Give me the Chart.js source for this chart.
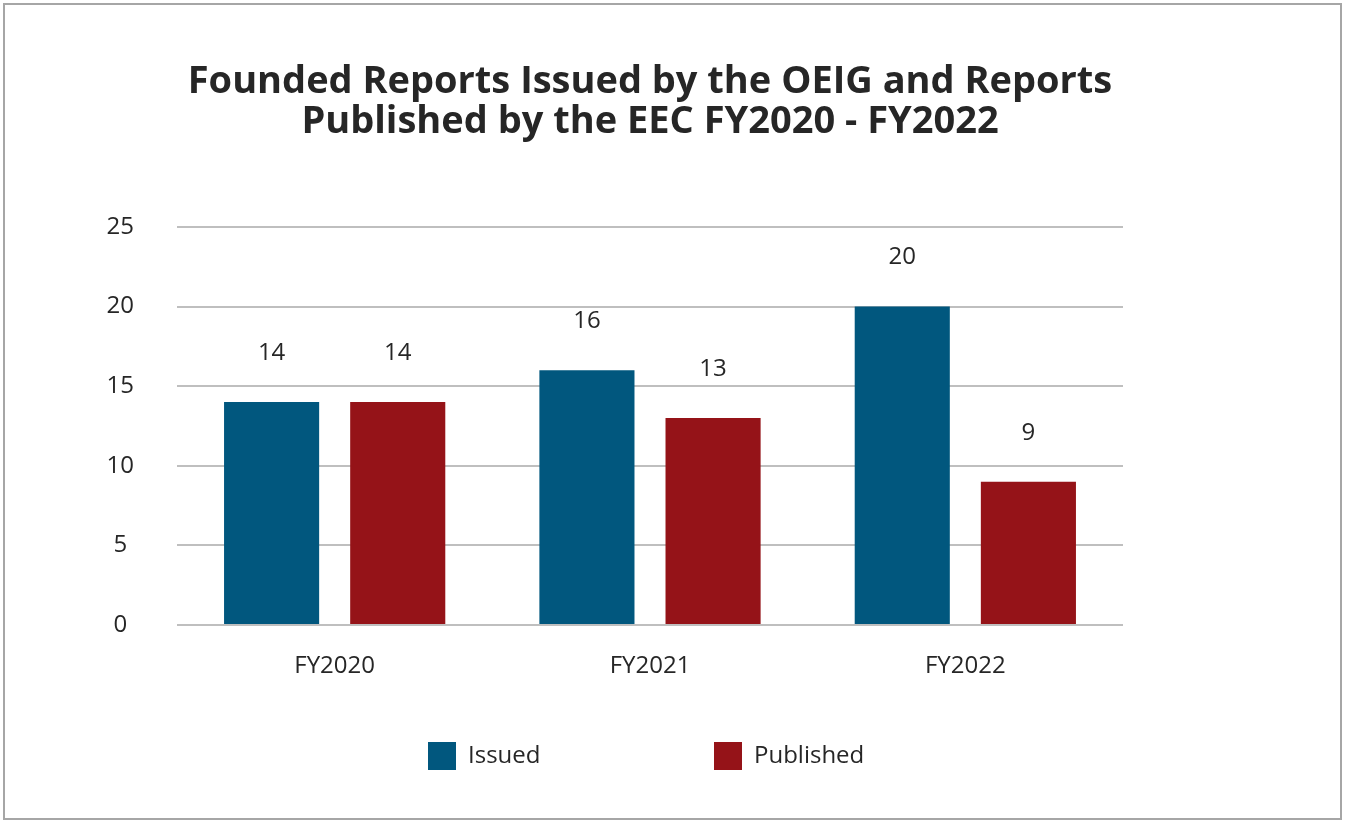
<!DOCTYPE html>
<html>
<head>
<meta charset="utf-8">
<script src="https://cdn.jsdelivr.net/npm/chart.js@4"></script>
<style>
  html, body { margin: 0; padding: 0; background: #fff; }
  #wrap { width: 1345px; height: 823px; }
</style>
</head>
<body>
<div id="wrap"><canvas id="chart"></canvas></div>
<script>
var years = ['FY2020', 'FY2021', 'FY2022'];
var issued = [14, 16, 20];
var published = [14, 13, 9];
var seriesNames = ['Issued', 'Published'];
var seriesColors = ['#01577E', '#951318'];
var titleLines = ['Founded Reports Issued by the OEIG and Reports', 'Published by the EEC FY2020 - FY2022'];

var textColor = '#262626';
var fontFamily = "'Open Sans', 'Noto Sans', sans-serif";

// border round the whole picture
var frame = {
    id: 'frame',
    beforeDraw: function (chart) {
        var ctx = chart.ctx;
        ctx.save();
        ctx.fillStyle = '#fff';
        ctx.fillRect(0, 0, chart.width, chart.height);
        ctx.strokeStyle = '#a6a6a6';
        ctx.lineWidth = 2;
        ctx.strokeRect(4, 4, chart.width - 8, chart.height - 8);
        ctx.restore();
    }
};

// title centred over the middle of the plot
var pageTitle = {
    id: 'pageTitle',
    afterDraw: function (chart) {
        var ctx = chart.ctx;
        var cx = (chart.chartArea.left + chart.chartArea.right) / 2;
        ctx.save();
        ctx.font = 'bold 38px ' + fontFamily;
        ctx.fillStyle = textColor;
        ctx.textAlign = 'center';
        ctx.textBaseline = 'middle';
        titleLines.forEach(function (line, i) {
            ctx.fillText(line, cx, 82 + i * 40);
        });
        ctx.restore();
    }
};

// value above every bar
var barValues = {
    id: 'barValues',
    afterDatasetsDraw: function (chart) {
        var ctx = chart.ctx;
        ctx.save();
        ctx.font = '24px ' + fontFamily;
        ctx.fillStyle = textColor;
        ctx.textAlign = 'center';
        ctx.textBaseline = 'middle';
        chart.data.datasets.forEach(function (ds, i) {
            chart.getDatasetMeta(i).data.forEach(function (bar, j) {
                ctx.fillText(ds.data[j], bar.x, bar.y - 49);
            });
        });
        ctx.restore();
    }
};

// legend at the bottom, wide spacing
var bottomLegend = {
    id: 'bottomLegend',
    afterDraw: function (chart) {
        var ctx = chart.ctx;
        ctx.save();
        ctx.font = '24px ' + fontFamily;
        ctx.textBaseline = 'middle';
        ctx.textAlign = 'left';
        var starts = [428, 714];
        chart.data.datasets.forEach(function (ds, i) {
            ctx.fillStyle = ds.backgroundColor;
            ctx.fillRect(starts[i], 742, 28, 28);
            ctx.fillStyle = textColor;
            ctx.fillText(ds.label, starts[i] + 40, 756);
        });
        ctx.restore();
    }
};

new Chart(
    document.getElementById('chart'),
    {
        type: 'bar',
        data: {
            labels: years,
            datasets: [{
                label: seriesNames[0],
                data: issued,
                backgroundColor: seriesColors[0],
                categoryPercentage: 0.8,
                barPercentage: 0.754
            },
            {
                label: seriesNames[1],
                data: published,
                backgroundColor: seriesColors[1],
                categoryPercentage: 0.8,
                barPercentage: 0.754
            }]
        },
        options: {
            responsive: true,
            maintainAspectRatio: false,
            animation: false,
            layout: {
                padding: { top: 227, left: 60, right: 222, bottom: 138 }
            },
            plugins: {
                legend: { display: false },
                tooltip: { enabled: false },
                title: { display: false }
            },
            scales: {
                x: {
                    grid: { display: false },
                    border: { display: false },
                    ticks: {
                        color: textColor,
                        padding: 19,
                        font: { family: fontFamily, size: 24 }
                    },
                    afterFit: function (scale) { scale.height = 60; }
                },
                y: {
                    min: 0,
                    max: 25,
                    grid: { color: '#bfbfbf', lineWidth: 2, drawTicks: false },
                    border: { display: false },
                    ticks: {
                        stepSize: 5,
                        color: textColor,
                        crossAlign: 'center',
                        padding: 43,
                        font: { family: fontFamily, size: 24 }
                    },
                    afterFit: function (scale) { scale.width = 117; }
                }
            }
        },
        plugins: [frame, pageTitle, barValues, bottomLegend]
    }
);
</script>
</body>
</html>
